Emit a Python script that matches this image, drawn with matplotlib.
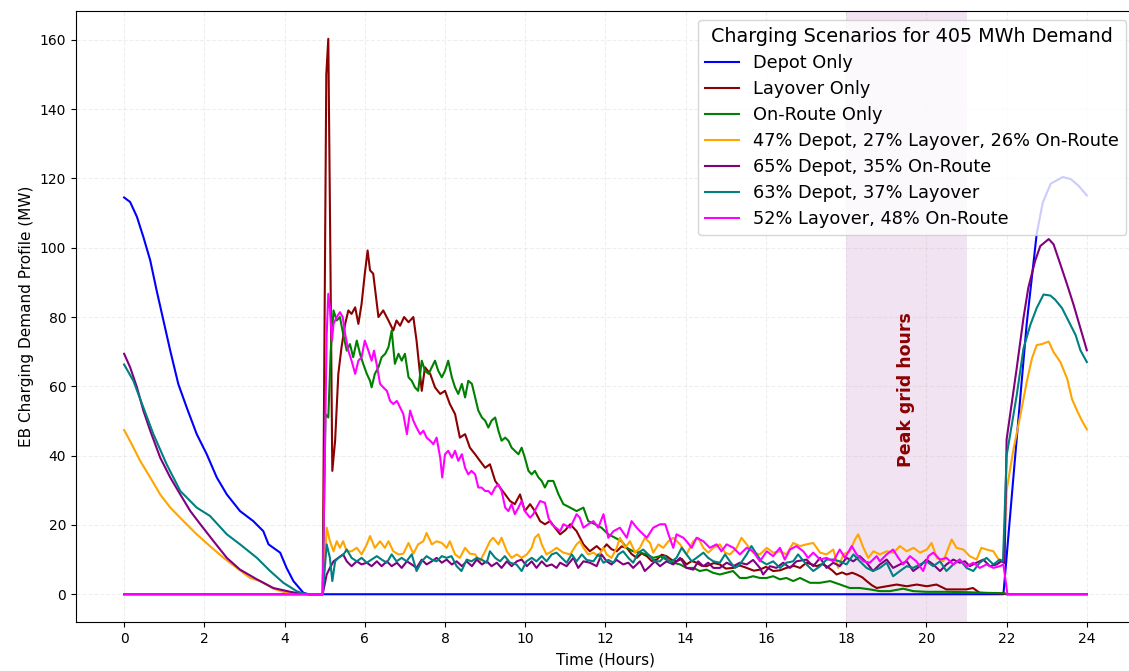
import matplotlib
matplotlib.use("Agg")
import matplotlib.pyplot as plt

# --- demand profiles (MW) read per scenario; each has its own time stamps (h) ---

depot_t = [0, 0.15, 0.32, 0.48, 0.65, 0.81, 0.98, 1.15, 1.35, 1.56, 1.81, 2.06, 2.31, 2.56,
           2.89, 3.22, 3.47, 3.6, 3.89, 4.05, 4.22, 4.47, 4.6, 21.92, 22.2, 22.5, 22.75,
           22.9, 23.1, 23.4, 23.6, 23.8, 24.0]
depot_mw = [114.5, 113.2, 108.9, 103.1, 96.4, 87.7, 79.0, 70.3, 60.7, 53.9, 46.2, 40.4, 33.7,
            28.8, 24.0, 21.1, 18.2, 14.4, 12.0, 7.6, 3.8, 0.4, 0, 0, 38, 78, 104, 113, 118.5,
            120.4, 119.8, 117.8, 115.1]

layover_t = [0, 4.95, 5.04, 5.09, 5.14, 5.19, 5.26, 5.34, 5.42, 5.51, 5.59, 5.67, 5.76, 5.84,
             5.92, 6.0, 6.07, 6.13, 6.21, 6.34, 6.46, 6.59, 6.71, 6.79, 6.88, 6.98, 7.09, 7.21,
             7.29, 7.42, 7.5, 7.63, 7.75, 7.88, 8.0, 8.12, 8.25, 8.37, 8.5, 8.62, 8.75, 8.87,
             9.0, 9.12, 9.25, 9.37, 9.5, 9.62, 9.74, 9.87, 9.99, 10.12, 10.24, 10.37, 10.49,
             10.62, 10.74, 10.87, 11.0, 11.12, 11.28, 11.45, 11.61, 11.78, 11.9, 12.03, 12.15,
             12.28, 12.4, 12.53, 12.65, 12.78, 12.9, 13.03, 13.15, 13.28, 13.4, 13.52, 13.65,
             13.77, 13.9, 14.02, 14.15, 14.27, 14.4, 14.52, 14.7, 14.85, 15.0, 15.18, 15.35,
             15.52, 15.7, 15.85, 16.0, 16.18, 16.35, 16.51, 16.7, 16.85, 17.01, 17.15, 17.26,
             17.4, 17.51, 17.65, 17.76, 17.9, 18.01, 18.15, 18.26, 18.4, 18.51, 18.64, 18.76,
             19.01, 19.26, 19.51, 19.76, 20.01, 20.25, 20.5, 20.75, 21.0, 21.16, 21.33, 21.9,
             22.0, 24.0]
layover_mw = [0, 0, 150.0, 160.3, 100.0, 35.6, 44.3, 63.6, 71.3, 78.0, 81.9, 80.9, 82.8, 78.0,
              83.8, 92.5, 99.2, 93.5, 92.5, 80.0, 81.9, 79.0, 76.1, 79.0, 77.5, 80.0, 78.5, 80.0,
              73.2, 58.7, 65.5, 63.6, 59.7, 57.8, 58.7, 54.9, 52.0, 45.2, 46.2, 42.3, 40.4, 38.5,
              36.5, 37.5, 32.7, 30.8, 28.8, 26.9, 26.0, 28.8, 24.0, 26.0, 24.0, 21.1, 20.2,
              21.1, 19.2, 17.3, 18.5, 20.2, 18.2, 14.4, 12.4, 13.9, 12.6, 14.4, 13.0,
              12.4, 13.8, 13.4, 11.6, 10.5, 11.8, 11.0, 9.6, 10.0, 11.4, 11.0, 9.9,
              9.5, 10.2, 8.6, 9.6, 9.1, 8.2, 8.1, 9.0, 8.6, 7.4, 7.6, 8.3,
              7.6, 6.8, 7.1, 7.9, 6.7, 6.9, 7.6, 8.2, 7.6, 9.1, 8.6, 8.1,
              8.7, 8.1, 6.9, 5.7, 6.3, 5.7, 6.2, 5.7, 4.9, 3.8, 2.6, 1.8,
              2.3, 2.8, 2.3, 2.8, 2.3, 2.8, 1.4, 1.4, 1.4, 1.8, 0.4, 0.2,
              0, 0]

onroute_t = [0, 4.95, 5.02, 5.09, 5.15, 5.22, 5.3, 5.38, 5.46, 5.55, 5.63, 5.71, 5.8, 5.88,
             5.96, 6.05, 6.13, 6.17, 6.25, 6.34, 6.42, 6.51, 6.59, 6.67, 6.75, 6.84, 6.92, 7.0,
             7.09, 7.17, 7.25, 7.33, 7.42, 7.5, 7.59, 7.67, 7.75, 7.83, 7.92, 8.0, 8.08, 8.17,
             8.25, 8.33, 8.42, 8.5, 8.58, 8.67, 8.75, 8.83, 8.92, 9.0, 9.08, 9.16, 9.25, 9.33,
             9.41, 9.5, 9.58, 9.66, 9.74, 9.83, 9.91, 9.99, 10.08, 10.16, 10.24, 10.33, 10.41,
             10.49, 10.57, 10.7, 10.83, 10.95, 11.12, 11.28, 11.45, 11.57, 11.74, 11.9, 12.07,
             12.24, 12.4, 12.53, 12.69, 12.86, 13.03, 13.19, 13.36, 13.52, 13.69, 13.86, 14.02,
             14.19, 14.35, 14.52, 14.68, 14.85, 15.02, 15.18, 15.35, 15.52, 15.68, 15.85, 16.02,
             16.18, 16.35, 16.51, 16.68, 16.85, 17.1, 17.35, 17.6, 17.85, 18.09, 18.34, 18.59,
             18.84, 19.09, 19.42, 19.67, 20.0, 20.5, 21.0, 21.5, 21.95, 22.0, 24.0]
onroute_mw = [0, 0, 52.0, 51.0, 70.0, 81.9, 79.0, 80.0, 75.1, 70.3, 72.2, 68.4, 73.2, 69.4,
              66.5, 63.6, 61.6, 59.7, 63.6, 65.5, 68.4, 69.4, 71.3, 76.1, 66.5, 69.4, 67.4, 69.4,
              62.6, 61.6, 59.7, 58.7, 67.4, 64.5, 63.6, 65.5, 67.4, 64.5, 62.6, 64.5, 67.4, 62.6,
              59.7, 57.8, 60.7, 56.8, 61.6, 60.7, 56.8, 53.0, 51.0, 50.1, 48.1, 50.1, 51.0, 47.2,
              44.3, 45.2, 44.3, 42.3, 41.4, 40.4, 42.3, 39.4, 35.6, 34.6, 35.6, 33.7, 32.7,
              30.8, 32.7, 32.7, 28.8, 26.0, 25.0, 24.0, 25.0, 21.1, 20.2, 19.2, 17.3,
              16.3, 15.3, 13.4, 12.4, 12.0, 11.5, 10.5, 11.0, 10.0, 9.1, 8.6, 7.6,
              7.6, 6.7, 7.1, 6.2, 5.7, 6.2, 6.7, 4.7, 4.7, 5.2, 4.7, 4.7,
              5.2, 4.3, 4.7, 3.8, 4.7, 3.3, 3.3, 3.8, 2.8, 1.8, 1.8, 1.4,
              0.9, 0.9, 1.6, 0.9, 0.7, 0.7, 0.6, 0.4, 0.3, 0, 0]

mix3_t = [0, 0.19, 0.4, 0.65, 0.9, 1.15, 1.48, 1.81, 2.14, 2.48, 2.81, 3.14, 3.39, 3.72, 4.05,
          4.25, 4.95, 5.05, 5.13, 5.22, 5.3, 5.38, 5.46, 5.55, 5.67, 5.8, 5.92, 6.05, 6.13,
          6.25, 6.38, 6.5, 6.59, 6.71, 6.84, 6.96, 7.09, 7.21, 7.33, 7.46, 7.54, 7.67, 7.79,
          7.92, 8.04, 8.12, 8.25, 8.37, 8.5, 8.62, 8.75, 8.87, 9.0, 9.12, 9.2, 9.33, 9.41,
          9.54, 9.66, 9.79, 9.91, 10.04, 10.16, 10.24, 10.33, 10.41, 10.53, 10.66, 10.78,
          10.95, 11.12, 11.28, 11.36, 11.45, 11.57, 11.7, 11.82, 11.95, 12.03, 12.15, 12.28,
          12.36, 12.49, 12.61, 12.74, 12.86, 12.98, 13.11, 13.19, 13.32, 13.44, 13.57, 13.69,
          13.86, 14.02, 14.19, 14.31, 14.44, 14.56, 14.69, 14.85, 14.98, 15.1, 15.27, 15.39,
          15.52, 15.68, 15.85, 16.02, 16.18, 16.35, 16.51, 16.68, 16.85, 17.01, 17.18, 17.35,
          17.51, 17.68, 17.8, 17.93, 18.09, 18.22, 18.3, 18.43, 18.55, 18.68, 18.84, 19.01,
          19.18, 19.34, 19.51, 19.68, 19.84, 20.01, 20.13, 20.26, 20.42, 20.55, 20.63, 20.75,
          20.92, 21.08, 21.25, 21.37, 21.5, 21.67, 21.83, 21.92, 22.0, 22.17, 22.34, 22.5,
          22.63, 22.75, 22.88, 23.05, 23.17, 23.34, 23.51, 23.63, 23.76, 23.88, 24.0]
mix3_mw = [47.4, 43.3, 38.5, 33.7, 28.8, 25.0, 21.1, 17.3, 13.9, 10.5, 7.6, 4.7, 3.8, 1.6, 0.4,
           0, 0, 19.2, 15.3, 12.4, 15.3, 13.4, 15.3, 12.4, 12.4, 13.4, 11.5, 14.4, 16.8,
           13.4, 15.3, 13.4, 15.3, 12.4, 11.5, 11.7, 14.8, 11.7, 14.4, 15.3, 17.7, 14.4, 15.3,
           14.8, 13.4, 15.3, 11.5, 10.5, 13.4, 11.7, 11.5, 9.5, 12.4, 15.3, 16.3, 14.4, 16.3,
           12.4, 10.5, 11.5, 10.5, 11.5, 13.4, 16.3, 17.3, 14.4, 11.5, 12.4, 13.4,
           12.0, 11.5, 14.4, 15.3, 13.4, 11.5, 12.0, 11.0, 13.4, 11.5, 10.5, 13.4,
           16.3, 13.4, 15.3, 12.0, 13.4, 16.3, 14.8, 12.0, 14.4, 13.4, 15.3, 16.3,
           14.4, 11.5, 15.3, 16.3, 13.4, 12.0, 13.4, 14.4, 12.0, 11.5, 13.4, 16.3,
           14.4, 12.0, 11.5, 13.4, 12.0, 12.4, 11.5, 14.8, 13.9, 14.4, 14.8, 12.0,
           11.5, 12.9, 7.6, 11.5, 12.4, 15.8, 17.3, 13.4, 10.5, 12.4, 11.5, 12.4,
           12.0, 13.9, 12.4, 13.4, 12.0, 12.9, 14.8, 10.5, 9.5, 13.4, 15.8, 13.4,
           12.9, 11.0, 10.0, 13.4, 12.9, 12.4, 9.5, 10.0, 30.0, 41.8, 51.5, 61.2,
           68.0, 71.9, 72.2, 72.9, 69.9, 67.0, 62.2, 56.3, 52.9, 50.0, 47.6]

depot_onroute_t = [0, 0.15, 0.32, 0.48, 0.65, 0.9, 1.15, 1.4, 1.65, 1.9, 2.23, 2.56, 2.89, 3.31,
                   3.72, 4.14, 4.39, 4.6, 4.95, 5.05, 5.13, 5.22, 5.34, 5.46, 5.55, 5.67, 5.8,
                   5.92, 6.05, 6.17, 6.3, 6.42, 6.55, 6.67, 6.8, 6.92, 7.05, 7.17, 7.29, 7.42,
                   7.54, 7.67, 7.79, 7.92, 8.04, 8.17, 8.29, 8.42, 8.54, 8.67, 8.79, 8.92, 9.04,
                   9.16, 9.29, 9.41, 9.54, 9.66, 9.79, 9.91, 10.04, 10.16, 10.28, 10.41, 10.53,
                   10.66, 10.78, 10.87, 11.03, 11.2, 11.32, 11.45, 11.61, 11.78, 11.9, 12.03,
                   12.15, 12.28, 12.44, 12.57, 12.69, 12.86, 12.98, 13.11, 13.23, 13.36, 13.52,
                   13.69, 13.86, 14.02, 14.19, 14.31, 14.44, 14.56, 14.69, 14.85, 15.02, 15.19,
                   15.35, 15.52, 15.68, 15.85, 15.93, 16.1, 16.26, 16.43, 16.6, 16.76, 17.01,
                   17.18, 17.35, 17.51, 17.68, 17.84, 18.01, 18.18, 18.34, 18.51, 18.67, 18.84,
                   19.01, 19.17, 19.34, 19.51, 19.67, 19.84, 20.0, 20.17, 20.34, 20.5, 20.67,
                   20.83, 20.96, 21.08, 21.25, 21.42, 21.58, 21.75, 21.87, 21.95, 22.0, 22.25,
                   22.42, 22.54, 22.71, 22.84, 23.05, 23.17, 23.34, 23.51, 23.67, 23.84, 24.0]
depot_onroute_mw = [69.4, 65.5, 59.7, 53.0, 47.2, 39.4, 33.7, 28.8, 24.0, 20.2, 15.3, 10.5, 7.1,
                    4.3, 1.8, 0.7, 0.2, 0, 0, 5.7, 7.6, 9.5, 10.5, 11.5, 9.5, 8.1, 9.5,
                    8.6, 9.1, 8.1, 9.5, 8.1, 9.5, 8.1, 9.1, 7.6, 9.5, 8.6, 7.6, 10.0,
                    8.6, 9.5, 10.5, 9.1, 10.0, 8.6, 9.5, 8.1, 9.5, 8.1, 10.0, 8.6, 9.5,
                    8.1, 9.1, 7.6, 9.5, 8.1, 9.5, 10.0, 8.1, 9.5, 7.6, 9.5, 8.1,
                    8.6, 7.6, 9.1, 8.1, 10.5, 7.6, 9.5, 9.1, 8.1, 11.5, 9.5,
                    8.6, 9.9, 8.6, 9.1, 7.6, 9.5, 6.7, 8.1, 9.5, 8.1, 9.5,
                    8.6, 10.5, 7.6, 7.1, 9.5, 8.1, 9.1, 7.6, 7.6, 9.1, 8.1,
                    9.1, 8.6, 9.9, 7.6, 5.7, 8.1, 7.6, 9.1, 7.6, 9.5, 10.0,
                    8.1, 10.5, 7.6, 9.1, 8.1, 10.5, 9.5, 11.0, 9.1, 6.7, 8.6,
                    10.0, 7.6, 8.6, 9.5, 6.7, 8.1, 10.0, 8.6, 6.7, 8.6, 10.0,
                    9.1, 9.5, 8.1, 9.1, 10.0, 8.1, 8.6, 9.5, 9.0, 44.7, 65.1,
                    79.7, 88.4, 96.2, 100.5, 102.5, 101.0, 95.2, 89.3, 83.5, 76.7, 70.4]

depot_layover_t = [0, 0.23, 0.48, 0.73, 1.06, 1.4, 1.81, 2.14, 2.56, 2.89, 3.31, 3.64, 3.97, 4.3,
                   4.47, 4.6, 4.95, 5.05, 5.13, 5.19, 5.26, 5.34, 5.47, 5.55, 5.67, 5.8, 5.92,
                   6.05, 6.17, 6.3, 6.42, 6.55, 6.67, 6.79, 6.92, 7.04, 7.17, 7.29, 7.42, 7.54,
                   7.67, 7.79, 7.92, 8.04, 8.16, 8.29, 8.41, 8.54, 8.66, 8.79, 8.91, 9.04, 9.12,
                   9.25, 9.37, 9.49, 9.62, 9.78, 9.91, 10.03, 10.16, 10.28, 10.41, 10.53, 10.66,
                   10.78, 10.91, 11.03, 11.16, 11.28, 11.41, 11.53, 11.7, 11.82, 11.95, 12.07,
                   12.2, 12.32, 12.44, 12.57, 12.69, 12.82, 12.94, 13.11, 13.23, 13.36, 13.48,
                   13.61, 13.77, 13.9, 14.02, 14.15, 14.27, 14.44, 14.56, 14.69, 14.85, 14.98,
                   15.1, 15.23, 15.35, 15.52, 15.64, 15.77, 15.89, 16.02, 16.18, 16.35, 16.51,
                   16.68, 16.8, 17.01, 17.18, 17.35, 17.51, 17.68, 17.84, 18.01, 18.18, 18.34,
                   18.51, 18.67, 18.84, 19.01, 19.17, 19.34, 19.51, 19.67, 19.84, 20.0, 20.17,
                   20.34, 20.5, 20.67, 20.83, 21.0, 21.17, 21.33, 21.5, 21.67, 21.83, 21.91,
                   22.0, 22.25, 22.42, 22.59, 22.75, 22.92, 23.09, 23.21, 23.38, 23.55, 23.72,
                   23.84, 24.0]
depot_layover_mw = [66.3, 61.6, 53.9, 46.2, 37.5, 29.8, 25.0, 22.6, 17.3, 14.4, 10.5, 6.7, 3.3,
                    0.9, 0.2, 0, 0, 14.4, 10.5, 3.8, 9.5, 10.5, 11.5, 12.9, 10.5, 9.5, 10.5,
                    9.1, 10.0, 11.0, 10.0, 9.1, 11.5, 9.5, 10.5, 9.5, 11.5, 6.7, 9.5, 11.0,
                    10.0, 9.5, 11.0, 10.5, 11.0, 8.1, 6.7, 10.0, 9.5, 10.5, 10.0, 9.1, 12.4,
                    10.5, 9.5, 11.0, 9.1, 8.6, 6.7, 9.5, 10.5, 9.5, 11.0, 9.5, 11.5,
                    12.0, 10.5, 9.1, 11.5, 9.5, 11.5, 9.9, 9.5, 11.5, 9.1, 9.9,
                    9.1, 11.5, 12.4, 10.5, 9.1, 12.0, 12.9, 11.0, 9.5, 9.5, 11.0,
                    9.1, 10.5, 13.4, 11.5, 9.5, 10.5, 12.0, 10.5, 9.5, 9.1, 11.5,
                    9.5, 7.6, 8.6, 11.5, 13.9, 11.5, 9.5, 8.6, 9.5, 7.6, 9.1,
                    9.5, 11.5, 8.6, 6.7, 8.1, 10.0, 10.0, 9.5, 8.6, 11.5, 9.5,
                    7.6, 6.7, 7.6, 9.1, 5.2, 6.7, 8.1, 7.6, 8.6, 9.5, 8.1,
                    9.5, 6.7, 8.6, 10.0, 7.6, 6.7, 9.1, 10.5, 8.6, 10.0, 9.5,
                    40.0, 57.3, 70.9, 77.7, 82.6, 86.5, 86.2, 85.0, 82.6, 78.7, 74.8,
                    70.4, 67.0]

layover_onroute_t = [0, 4.95, 5.05, 5.09, 5.13, 5.18, 5.22, 5.3, 5.38, 5.45, 5.51, 5.59, 5.67,
                     5.76, 5.84, 5.92, 6.0, 6.09, 6.17, 6.23, 6.31, 6.38, 6.46, 6.55, 6.63, 6.71,
                     6.8, 6.88, 6.96, 7.05, 7.13, 7.21, 7.29, 7.38, 7.46, 7.54, 7.63, 7.71, 7.79,
                     7.88, 7.93, 8.0, 8.08, 8.17, 8.25, 8.33, 8.42, 8.5, 8.58, 8.66, 8.75, 8.83,
                     8.91, 9.0, 9.08, 9.16, 9.25, 9.33, 9.41, 9.5, 9.58, 9.66, 9.74, 9.83, 9.91,
                     9.99, 10.12, 10.2, 10.28, 10.37, 10.49, 10.58, 10.66, 10.87, 10.95, 11.12,
                     11.28, 11.36, 11.45, 11.57, 11.7, 11.82, 11.95, 12.07, 12.2, 12.36, 12.53,
                     12.65, 12.78, 12.86, 13.03, 13.19, 13.36, 13.49, 13.57, 13.69, 13.77, 13.94,
                     14.02, 14.15, 14.27, 14.44, 14.6, 14.77, 14.89, 15.02, 15.19, 15.35, 15.52,
                     15.68, 15.85, 16.02, 16.18, 16.35, 16.47, 16.6, 16.76, 16.93, 17.05, 17.18,
                     17.35, 17.51, 17.68, 17.84, 17.97, 18.14, 18.26, 18.43, 18.59, 18.76, 18.84,
                     19.01, 19.17, 19.3, 19.42, 19.59, 19.75, 19.92, 20.05, 20.17, 20.34, 20.5,
                     20.67, 20.83, 21.0, 21.17, 21.33, 21.5, 21.67, 21.83, 21.92, 22.02, 24.0]
layover_onroute_mw = [0, 0, 75.0, 86.7, 82.8, 73.2, 78.0, 80.0, 81.4, 80.0, 75.1, 70.3, 67.4,
                      63.6, 67.4, 68.4, 73.2, 70.3, 67.4, 70.3, 65.5, 60.7, 59.7, 58.7, 55.8, 54.9,
                      55.8, 53.9, 52.0, 46.2, 53.0, 50.1, 48.1, 46.2, 47.2, 45.2, 44.3, 43.3, 45.2,
                      39.4, 33.7, 40.4, 41.4, 39.4, 41.4, 38.5, 40.4, 36.5, 34.6, 35.6, 34.6, 30.8,
                      30.8, 29.8, 29.8, 28.8, 30.8, 31.7, 29.8, 25.0, 24.0, 26.0, 23.1, 25.0, 26.9,
                      24.0, 22.1, 23.1, 25.0, 26.9, 26.4, 22.0, 20.2, 18.2, 20.2, 19.2,
                      23.1, 22.1, 19.2, 20.2, 21.1, 19.2, 23.1, 16.3, 18.2, 19.2, 16.3,
                      21.1, 19.2, 18.2, 16.3, 19.2, 20.2, 20.2, 17.3, 13.4, 17.3, 16.3,
                      15.3, 13.4, 16.3, 15.3, 13.4, 14.4, 12.4, 14.4, 13.4, 11.5, 13.4,
                      12.4, 9.5, 12.4, 11.0, 13.4, 10.0, 12.9, 13.9, 12.4, 10.5, 12.0,
                      10.0, 10.5, 9.5, 12.9, 10.5, 13.9, 11.5, 9.5, 9.1, 11.0, 9.5,
                      11.5, 12.9, 10.5, 8.6, 11.0, 9.5, 6.7, 11.0, 12.0, 10.0, 10.5,
                      8.6, 10.0, 8.1, 9.1, 7.6, 8.6, 7.6, 8.1, 8.6, 0, 0]

LABELS = ['Depot Only', 'Layover Only', 'On-Route Only',
          '47% Depot, 27% Layover, 26% On-Route', '65% Depot, 35% On-Route',
          '63% Depot, 37% Layover', '52% Layover, 48% On-Route']
COLORS = ['blue', 'darkred', 'green', 'orange', 'purple', 'teal', 'magenta']

PEAK_START, PEAK_END = 18, 21

series = [(depot_t, depot_mw), (layover_t, layover_mw), (onroute_t, onroute_mw),
          (mix3_t, mix3_mw), (depot_onroute_t, depot_onroute_mw),
          (depot_layover_t, depot_layover_mw), (layover_onroute_t, layover_onroute_mw)]

fig = plt.figure(figsize=(11.29, 6.71), dpi=100)
ax = fig.add_axes([0.0673, 0.073, 0.938, 0.9106])

for (t, mw), label, color in zip(series, LABELS, COLORS):
    ax.plot(t, mw, color=color, linewidth=1.5, label=label)

# peak grid window
ax.axvspan(PEAK_START, PEAK_END, color='purple', alpha=0.11, linewidth=0)
ax.text((PEAK_START + PEAK_END) / 2, 59, 'Peak grid hours', rotation=90, color='darkred',
        fontweight='bold', fontsize=12.5, ha='center', va='center')

ax.set_xticks(range(0, 25, 2))
ax.set_xlabel('Time (Hours)', fontsize=11, labelpad=5)
ax.set_ylabel('EB Charging Demand Profile (MW)', fontsize=11)
ax.grid(True, linestyle='--', alpha=0.2)

ax.legend(title='Charging Scenarios for 405 MWh Demand', loc='upper right',
          fontsize=12.8, title_fontsize=13.8, labelspacing=0.45, handlelength=1.9)

fig.savefig('out.png', dpi=100)
